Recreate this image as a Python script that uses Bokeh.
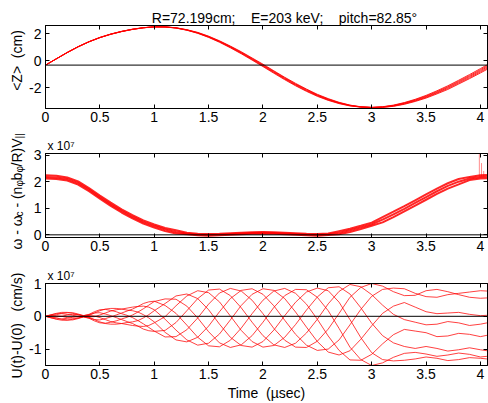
from bokeh.plotting import figure
from bokeh.models import (Range1d, LinearAxis, Span, Label, FixedTicker,
                          NumeralTickFormatter, CustomJSTickFormatter)
from bokeh.layouts import column, row
from bokeh.embed import file_html
from bokeh.resources import INLINE

FONT = "Liberation Sans"
NB = "\u00a0"

# ---------------- data ----------------
x_ticks = [0, 0.5, 1, 1.5, 2, 2.5, 3, 3.5, 4]

# common time grid for panels 1 and 2 (microseconds)
t1 = [0.0, 0.1, 0.2, 0.3, 0.4, 0.5, 0.6, 0.7, 0.8, 0.9, 1.0, 1.1, 1.2, 1.3, 1.4,
      1.5, 1.6, 1.7, 1.8, 1.9, 2.0, 2.1, 2.2, 2.3, 2.4, 2.5, 2.6, 2.7, 2.8, 2.9,
      3.0, 3.1, 3.2, 3.3, 3.4, 3.5, 3.6, 3.7, 3.8, 3.9, 4.0, 4.06]

# panel 1: <Z> (cm), bundle of traces
z0_level = -0.32
z_a = [-0.32, 0.15, 0.62, 1.05, 1.42, 1.73, 1.98, 2.18, 2.34, 2.45, 2.51, 2.50, 2.42, 2.26, 2.03,
       1.73, 1.37, 0.96, 0.52, 0.05, -0.43, -0.92, -1.40, -1.85, -2.26, -2.63, -2.93, -3.17, -3.34, -3.43,
       -3.45, -3.40, -3.28, -3.09, -2.85, -2.56, -2.22, -1.85, -1.44, -1.02, -0.58, -0.31]
z_b = [-0.32, 0.15, 0.62, 1.04, 1.41, 1.72, 1.97, 2.17, 2.33, 2.45, 2.51, 2.50, 2.43, 2.27, 2.05,
       1.75, 1.40, 0.99, 0.56, 0.09, -0.39, -0.87, -1.35, -1.81, -2.22, -2.59, -2.90, -3.14, -3.32, -3.42,
       -3.45, -3.41, -3.30, -3.12, -2.89, -2.61, -2.28, -1.92, -1.51, -1.10, -0.66, -0.39]
z_c = [-0.32, 0.15, 0.61, 1.04, 1.41, 1.72, 1.97, 2.17, 2.33, 2.44, 2.51, 2.50, 2.43, 2.28, 2.06,
       1.77, 1.43, 1.03, 0.59, 0.13, -0.34, -0.83, -1.31, -1.76, -2.18, -2.55, -2.87, -3.12, -3.31, -3.42,
       -3.45, -3.42, -3.32, -3.15, -2.93, -2.66, -2.34, -1.98, -1.58, -1.17, -0.74, -0.47]
z_d = [-0.32, 0.14, 0.61, 1.03, 1.40, 1.71, 1.96, 2.16, 2.32, 2.44, 2.51, 2.51, 2.44, 2.29, 2.08,
       1.80, 1.45, 1.06, 0.63, 0.17, -0.30, -0.78, -1.26, -1.72, -2.13, -2.52, -2.83, -3.10, -3.29, -3.41,
       -3.46, -3.44, -3.35, -3.19, -2.97, -2.71, -2.39, -2.05, -1.65, -1.25, -0.82, -0.56]
z_e = [-0.32, 0.14, 0.60, 1.03, 1.40, 1.71, 1.96, 2.16, 2.32, 2.44, 2.51, 2.51, 2.44, 2.30, 2.10,
       1.82, 1.48, 1.09, 0.67, 0.21, -0.25, -0.74, -1.22, -1.67, -2.09, -2.48, -2.80, -3.07, -3.28, -3.40,
       -3.46, -3.45, -3.37, -3.22, -3.01, -2.76, -2.45, -2.12, -1.72, -1.32, -0.90, -0.64]

# panel 2: omega - omega_c - (n b/R)V  (units of 1e7)
w_mid = [2.18, 2.16, 2.10, 1.95, 1.70, 1.42, 1.15, 0.90, 0.68, 0.48, 0.33, 0.20, 0.11, 0.05, 0.01,
         0.00, 0.01, 0.03, 0.05, 0.07, 0.08, 0.07, 0.05, 0.03, 0.01, 0.00, 0.02, 0.08, 0.17, 0.28,
         0.40, 0.57, 0.77, 0.98, 1.20, 1.42, 1.64, 1.84, 2.00, 2.12, 2.18, 2.19]
w_hi = [2.24, 2.22, 2.16, 2.01, 1.76, 1.48, 1.21, 0.96, 0.74, 0.54, 0.39, 0.26, 0.17, 0.08, 0.04,
        0.03, 0.04, 0.06, 0.08, 0.10, 0.11, 0.10, 0.08, 0.06, 0.04, 0.03, 0.05, 0.14, 0.23, 0.34,
        0.46, 0.67, 0.87, 1.08, 1.30, 1.52, 1.74, 1.94, 2.10, 2.18, 2.24, 2.25]
w_lo = [2.12, 2.10, 2.04, 1.89, 1.64, 1.36, 1.09, 0.84, 0.62, 0.42, 0.27, 0.14, 0.05, 0.02, -0.02,
        -0.03, -0.02, 0.00, 0.02, 0.04, 0.05, 0.04, 0.02, 0.00, -0.02, -0.03, -0.01, 0.02, 0.11, 0.22,
        0.34, 0.47, 0.67, 0.88, 1.10, 1.32, 1.54, 1.74, 1.90, 2.06, 2.12, 2.13]
w0_level = 0.0
spike_t = [3.99, 4.01, 4.03]
spike_lo = [2.19, 2.19, 2.19]
spike_hi = [3.10, 2.70, 2.40]

# panel 3: U(t)-U(0) (units of 1e7 cm/s)
t3 = [0.0, 0.05, 0.1, 0.15, 0.2, 0.25, 0.3, 0.35, 0.4, 0.45, 0.5, 0.55, 0.6, 0.65, 0.7,
      0.75, 0.8, 0.85, 0.9, 0.95, 1.0,
      1.1, 1.2, 1.3, 1.4, 1.5, 1.6, 1.7, 1.8, 1.9, 2.0,
      2.1, 2.2, 2.3, 2.4, 2.5, 2.6, 2.7, 2.8, 2.9, 3.0,
      3.1, 3.2, 3.3, 3.4, 3.5, 3.6, 3.7, 3.8, 3.9, 4.0, 4.06]
u0 = [0, 0.04, 0.09, 0.12, 0.12, 0.09, 0.05, 0.01, 0.02, 0.01, -0.04, -0.10, -0.16, -0.20, -0.22,
      -0.25, -0.28, -0.30, -0.31, -0.28, -0.20,
      -0.01, 0.32, 0.62, 0.78, 0.72, 0.44, 0.01, -0.43, -0.77, -0.94,
      -0.89, -0.64, -0.25, 0.19, 0.59, 0.87, 0.90, 0.68, 0.26, -0.21,
      -0.59, -0.81, -0.92, -0.98, -0.92, -0.98, -1.06, -1.02, -0.96, -1.02, -1.05]
u1 = [0, 0.05, 0.08, 0.08, 0.06, 0.03, 0.00, 0.00, -0.03, -0.10, -0.17, -0.22, -0.24, -0.24, -0.22,
      -0.19, -0.17, -0.13, -0.05, 0.05, 0.17,
      0.39, 0.62, 0.68, 0.54, 0.20, -0.24, -0.64, -0.89, -0.94, -0.77,
      -0.42, 0.02, 0.43, 0.74, 0.86, 0.78, 0.43, -0.10, -0.65, -1.11,
      -1.32, -1.36, -1.34, -1.30, -1.24, -1.28, -1.35, -1.32, -1.26, -1.28, -1.30]
u2 = [0, 0.02, 0.02, 0.00, -0.04, -0.06, -0.05, -0.02, -0.06, -0.14, -0.20, -0.21, -0.18, -0.14, -0.08,
      -0.03, 0.04, 0.13, 0.23, 0.34, 0.45,
      0.53, 0.52, 0.31, -0.05, -0.47, -0.81, -0.95, -0.87, -0.59, -0.18,
      0.27, 0.63, 0.82, 0.81, 0.58, 0.17, -0.37, -0.94, -1.32, -1.50,
      -1.42, -1.25, -1.13, -1.10, -1.15, -1.22, -1.18, -1.12, -1.16, -1.24, -1.22]
u3 = [0, -0.02, -0.05, -0.09, -0.11, -0.11, -0.07, -0.02, -0.05, -0.10, -0.11, -0.07, -0.02, 0.04, 0.10,
      0.16, 0.22, 0.30, 0.39, 0.44, 0.46,
      0.33, 0.09, -0.27, -0.64, -0.90, -0.93, -0.73, -0.36, 0.08, 0.49,
      0.77, 0.85, 0.70, 0.37, -0.09, -0.60, -1.04, -1.33, -1.34, -1.16,
      -0.84, -0.56, -0.40, -0.45, -0.50, -0.62, -0.60, -0.52, -0.55, -0.62, -0.58]
u4 = [0, -0.04, -0.09, -0.12, -0.12, -0.09, -0.05, -0.01, -0.02, -0.01, 0.04, 0.10, 0.16, 0.20, 0.22,
      0.25, 0.28, 0.30, 0.31, 0.28, 0.20,
      -0.09, -0.42, -0.72, -0.88, -0.82, -0.54, -0.11, 0.33, 0.67, 0.84,
      0.79, 0.54, 0.13, -0.33, -0.77, -1.09, -1.18, -1.05, -0.70, -0.29,
      0.09, 0.31, 0.42, 0.28, 0.14, 0.08, 0.10, 0.12, 0.06, 0.02, 0.03]
u5 = [0, -0.05, -0.08, -0.08, -0.06, -0.03, 0.00, 0.00, 0.03, 0.10, 0.17, 0.22, 0.24, 0.24, 0.22,
      0.19, 0.17, 0.13, 0.05, -0.05, -0.17,
      -0.49, -0.72, -0.78, -0.64, -0.30, 0.14, 0.54, 0.79, 0.84, 0.67,
      0.32, -0.12, -0.55, -0.88, -1.04, -1.00, -0.72, -0.26, 0.21, 0.61,
      0.82, 0.86, 0.84, 0.70, 0.60, 0.58, 0.66, 0.70, 0.74, 0.78, 0.77]
u6 = [0, -0.02, -0.02, 0.00, 0.04, 0.06, 0.05, 0.02, 0.06, 0.14, 0.20, 0.21, 0.18, 0.14, 0.08,
      0.03, -0.04, -0.13, -0.23, -0.34, -0.45,
      -0.63, -0.62, -0.41, -0.05, 0.37, 0.71, 0.85, 0.77, 0.49, 0.08,
      -0.37, -0.73, -0.94, -0.95, -0.76, -0.39, 0.09, 0.58, 0.88, 1.00,
      0.92, 0.75, 0.63, 0.64, 0.78, 0.82, 0.75, 0.66, 0.58, 0.55, 0.56]
u7 = [0, 0.02, 0.05, 0.09, 0.11, 0.11, 0.07, 0.02, 0.05, 0.10, 0.11, 0.07, 0.02, -0.04, -0.10,
      -0.16, -0.22, -0.30, -0.39, -0.44, -0.46,
      -0.43, -0.19, 0.17, 0.54, 0.80, 0.83, 0.63, 0.26, -0.18, -0.59,
      -0.87, -0.95, -0.82, -0.51, -0.09, 0.38, 0.76, 0.97, 0.90, 0.66,
      0.34, 0.06, -0.10, -0.18, -0.26, -0.24, -0.16, -0.20, -0.28, -0.24, -0.20]
u0_level = 0.0

title_text = "R=72.199cm;" + NB * 4 + "E=203 keV;" + NB * 4 + "pitch=82.85\u00b0"
ylabel1 = "<Z>" + NB * 2 + "(cm)"
ylabel3 = "U(t)-U(0)" + NB * 3 + "(cm/s)"
xlabel3 = "Time" + NB * 2 + "(\u00b5sec)"
exp_label = "x 10\u2077"

RED = "#ff0000"
PW = 462  # width of the panel column


# ---------------- helpers ----------------
def style_axis(ax, standoff):
    ax.major_tick_in = 4
    ax.major_tick_out = 0
    ax.minor_tick_in = 0
    ax.minor_tick_out = 0
    ax.axis_line_color = "black"
    ax.major_tick_line_color = "black"
    ax.major_label_text_font = FONT
    ax.major_label_text_font_size = "14px"
    ax.major_label_text_color = "black"
    ax.major_label_standoff = standoff


def panel(height, b_top, b_bottom, yr, yticks, xlabel=None, exp_text=None):
    p = figure(width=PW, height=height, x_range=Range1d(0, 4.065),
               y_range=Range1d(*yr), output_backend="svg", toolbar_location=None,
               min_border_left=17, min_border_right=1,
               min_border_top=b_top, min_border_bottom=b_bottom,
               background_fill_color="white", border_fill_color="white")
    p.grid.visible = False
    p.outline_line_color = "black"
    p.outline_line_width = 1
    if exp_text:
        p.title.text = exp_text
        p.title.align = "left"
        p.title.offset = 2
        p.title.standoff = 2
        p.title.text_font = FONT
        p.title.text_font_size = "12px"
        p.title.text_font_style = "normal"
        p.title.text_color = "black"
    xa = p.xaxis[0]
    style_axis(xa, 3)
    xa.ticker = FixedTicker(ticks=x_ticks)
    xa.formatter = NumeralTickFormatter(format="0.[0]")
    if xlabel:
        xa.axis_label = xlabel
        xa.axis_label_text_font = FONT
        xa.axis_label_text_font_size = "14px"
        xa.axis_label_text_font_style = "normal"
        xa.axis_label_text_color = "black"
        xa.axis_label_standoff = 3
    ya = p.yaxis[0]
    style_axis(ya, 4)
    ya.ticker = FixedTicker(ticks=yticks)
    ya.formatter = NumeralTickFormatter(format="0")
    empty = CustomJSTickFormatter(code="return ''")
    top = LinearAxis(ticker=FixedTicker(ticks=x_ticks), formatter=empty)
    style_axis(top, 0)
    top.major_label_text_font_size = "0px"
    p.add_layout(top, "above")
    right = LinearAxis(ticker=FixedTicker(ticks=yticks), formatter=empty)
    style_axis(right, 0)
    right.major_label_text_font_size = "0px"
    p.add_layout(right, "right")
    return p


def strip(width, height):
    s = figure(width=width, height=height, x_range=Range1d(0, 1), y_range=Range1d(0, 1),
               output_backend="svg", toolbar_location=None,
               x_axis_location=None, y_axis_location=None,
               min_border_left=0, min_border_right=0, min_border_top=0, min_border_bottom=0,
               background_fill_color="white", border_fill_color="white")
    s.outline_line_color = None
    s.grid.visible = False
    return s


def lab(p, x, y, text, size="14px", angle=0, align="left"):
    p.add_layout(Label(x=x, y=y, x_units="screen", y_units="screen", text=text,
                       text_font=FONT, text_font_size=size, text_color="black",
                       angle=angle, angle_units="deg", text_align=align,
                       text_baseline="alphabetic"))


# ---------------- text strips ----------------
s1 = strip(PW, 25)
lab(s1, 239, 8, title_text, align="center")

left = strip(26, 403)
lab(left, 16, 343, ylabel1, angle=90, align="center")
lab(left, 16, 78, ylabel3, angle=90, align="center")
# panel-2 label, composed with subscripts
pieces = [("\u03c9 - \u03c9", "14px", False, 33),
          ("c", "10px", True, 5),
          (NB + "- (n", "14px", False, 25),
          ("\u03c6", "10px", True, 6),
          ("b", "14px", False, 8),
          ("\u03c6", "10px", True, 6),
          ("/R)V", "14px", False, 28),
          ("||", "10px", True, 5)]
ypos = 154
for txt, sz, sub, wdt in pieces:
    lab(left, 19 if sub else 16, ypos, txt, size=sz, angle=90)
    ypos += wdt

# ---------------- panel 1 ----------------
p1 = panel(105, 0, 22, (-3.53, 2.61), [-2, 0, 2])
for z in (z_e, z_d, z_c, z_b, z_a):
    p1.line(t1, z, line_color=RED, line_width=1, line_alpha=0.85)
p1.add_layout(Span(location=z0_level, dimension="width", line_color="black", line_width=1))

# ---------------- panel 2 ----------------
p2 = panel(130, 23, 23, (-0.1, 3.06), [0, 1, 2, 3], exp_text=exp_label)
for w in (w_lo, w_mid, w_hi):
    p2.line(t1, w, line_color=RED, line_width=2, line_alpha=0.85)
p2.segment(x0=spike_t, y0=spike_lo, x1=spike_t, y1=spike_hi, line_color=RED,
           line_width=1, line_alpha=0.45)
p2.add_layout(Span(location=w0_level, dimension="width", line_color="black", line_width=1))

# ---------------- panel 3 ----------------
p3 = panel(143, 23, 37, (-1.5, 1.0), [-1, 0, 1], xlabel=xlabel3, exp_text=exp_label)
for u in (u0, u1, u2, u3, u4, u5, u6, u7):
    p3.line(t3, u, line_color=RED, line_width=1, line_alpha=0.75)
p3.add_layout(Span(location=u0_level, dimension="width", line_color="black", line_width=1))

layout = row(left, column(s1, p1, p2, p3, spacing=0), spacing=0)
open("out.html", "w").write(file_html(layout, INLINE))
